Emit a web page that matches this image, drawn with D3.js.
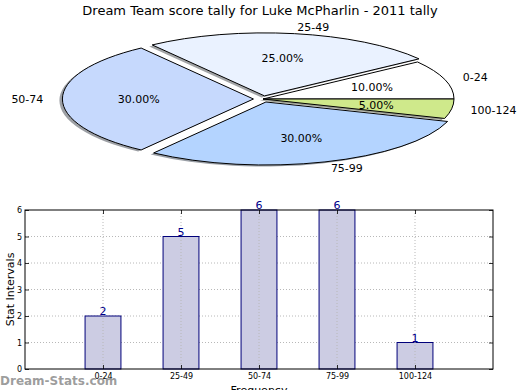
<!DOCTYPE html>
<html>
<head>
<meta charset="utf-8">
<script src="https://cdn.jsdelivr.net/npm/d3@7"></script>
<style>
  body { margin: 0; background: #fff; }
  svg { display: block; font-family: "DejaVu Sans", sans-serif; }
</style>
</head>
<body>
<script>
// score intervals and how many games fell in each
var categories = ["0-24", "25-49", "50-74", "75-99", "100-124"];
var counts = [2, 5, 6, 6, 1];
var sliceColors = ["#ffffff", "#eaf2ff", "#c6d9fd", "#b4d4ff", "#cfe98b"];
var explode = [0, 0.05, 0.05, 0.05, 0];
var yTicks = [0, 1, 2, 3, 4, 5, 6];

var W = 520, H = 390;

var svg = d3.select("body").append("svg")
    .attr("width", W)
    .attr("height", H);

// title
svg.append("text")
    .attr("x", 260).attr("y", 15)
    .attr("text-anchor", "middle")
    .attr("font-size", "13px")
    .text("Dream Team score tally for Luke McPharlin - 2011 tally");

// ---- pie (squashed into an ellipse, matplotlib style: starts at 3 o'clock, ccw) ----
var cx = 263, cy = 99, rx = 191, ry = 63;
var total = d3.sum(counts);

var pie = d3.pie().sortValues(null).value(function (d) { return d; });
var slices = pie(counts).map(function (s, i) {
    // d3 angles are cw from 12 o'clock; reuse them as ccw angle from 3 o'clock
    var t0 = s.startAngle, t1 = s.endAngle, mid = (t0 + t1) / 2;
    return {
        i: i,
        value: s.value,
        a0: Math.PI / 2 - t1,
        a1: Math.PI / 2 - t0,
        mid: mid,
        dx: explode[i] * rx * Math.cos(mid),
        dy: -explode[i] * ry * Math.sin(mid)
    };
});

var arc = d3.arc().innerRadius(0).outerRadius(1)
    .startAngle(function (d) { return d.a0; })
    .endAngle(function (d) { return d.a1; });

var pieG = svg.append("g");

// shadows under everything
pieG.selectAll(".shadow")
    .data(slices)
    .enter().append("path")
    .attr("class", "shadow")
    .attr("d", arc)
    .attr("transform", function (d) {
        return "translate(" + (cx + d.dx - 3) + "," + (cy + d.dy + 1.5) + ") scale(" + rx + "," + ry + ")";
    })
    .attr("fill", function (d) {
        var c = d3.rgb(sliceColors[d.i]);
        return d3.rgb(c.r * 0.3, c.g * 0.3, c.b * 0.3);
    })
    .attr("fill-opacity", 0.5);

pieG.selectAll(".wedge")
    .data(slices)
    .enter().append("path")
    .attr("class", "wedge")
    .attr("d", arc)
    .attr("transform", function (d) {
        return "translate(" + (cx + d.dx) + "," + (cy + d.dy) + ") scale(" + rx + "," + ry + ")";
    })
    .attr("fill", function (d) { return sliceColors[d.i]; })
    .attr("stroke", "#000")
    .attr("stroke-width", 1)
    .attr("vector-effect", "non-scaling-stroke");

// category labels at 1.1 r
pieG.selectAll(".plabel")
    .data(slices)
    .enter().append("text")
    .attr("class", "plabel")
    .attr("x", function (d) { return cx + d.dx + 1.1 * rx * Math.cos(d.mid); })
    .attr("y", function (d) { return cy + d.dy - 1.1 * ry * Math.sin(d.mid); })
    .attr("dy", "0.35em")
    .attr("text-anchor", function (d) { return Math.cos(d.mid) > 0 ? "start" : "end"; })
    .attr("font-size", "11px")
    .text(function (d) { return categories[d.i]; });

// percentages at 0.6 r
pieG.selectAll(".pct")
    .data(slices)
    .enter().append("text")
    .attr("class", "pct")
    .attr("x", function (d) { return cx + d.dx + 0.6 * rx * Math.cos(d.mid); })
    .attr("y", function (d) { return cy + d.dy - 0.6 * ry * Math.sin(d.mid); })
    .attr("dy", "0.35em")
    .attr("text-anchor", "middle")
    .attr("font-size", "11px")
    .text(function (d) { return (d.value / total * 100).toFixed(2) + "%"; });

// ---- bar chart ----
var pLeft = 25, pRight = 493, pTop = 210, pBottom = 369;

var x = d3.scaleLinear().domain([-1, 5]).range([pLeft, pRight]);
var y = d3.scaleLinear().domain([0, 6]).range([pBottom, pTop]);
var barW = 0.46;

var g = svg.append("g");

// horizontal grid (behind bars)
g.selectAll(".hgrid")
    .data(yTicks.slice(1, -1))
    .enter().append("line")
    .attr("x1", pLeft).attr("x2", pRight)
    .attr("y1", function (d) { return y(d); })
    .attr("y2", function (d) { return y(d); })
    .attr("stroke", "#b8b8b8")
    .attr("stroke-dasharray", "1,2");

g.selectAll(".bar")
    .data(counts)
    .enter().append("rect")
    .attr("class", "bar")
    .attr("x", function (d, i) { return x(i - barW / 2); })
    .attr("y", function (d) { return y(d); })
    .attr("width", x(barW) - x(0))
    .attr("height", function (d) { return y(0) - y(d); })
    .attr("fill", "#ccccE3")
    .attr("stroke", "#00007a")
    .attr("stroke-width", 1);

// vertical grid (drawn over bars)
g.selectAll(".vgrid")
    .data(categories)
    .enter().append("line")
    .attr("x1", function (d, i) { return x(i); })
    .attr("x2", function (d, i) { return x(i); })
    .attr("y1", pTop).attr("y2", pBottom)
    .attr("stroke", "#b8b8b8")
    .attr("stroke-dasharray", "1,2");

// value labels
g.selectAll(".val")
    .data(counts)
    .enter().append("text")
    .attr("x", function (d, i) { return x(i); })
    .attr("y", function (d) { return y(d) - 1; })
    .attr("text-anchor", "middle")
    .attr("font-size", "11px")
    .attr("fill", "#00008b")
    .text(function (d) { return d; });

// frame
g.append("rect")
    .attr("x", pLeft).attr("y", pTop)
    .attr("width", pRight - pLeft).attr("height", pBottom - pTop)
    .attr("fill", "none")
    .attr("stroke", "#000")
    .attr("stroke-width", 1);

// axes with inward ticks
var yAxis = d3.axisLeft(y).tickValues(yTicks).tickFormat(d3.format("d"))
    .tickSizeInner(-4).tickSizeOuter(0).tickPadding(3);
var yAx = g.append("g").attr("transform", "translate(" + pLeft + ",0)").call(yAxis);
yAx.select(".domain").remove();
yAx.selectAll("text").attr("font-size", "8px").attr("font-family", "DejaVu Sans, sans-serif");

var yAxisR = d3.axisRight(y).tickValues(yTicks).tickSizeInner(-4).tickSizeOuter(0).tickFormat("");
var yAxR = g.append("g").attr("transform", "translate(" + pRight + ",0)").call(yAxisR);
yAxR.select(".domain").remove();

var xAxis = d3.axisBottom(x).tickValues(d3.range(categories.length))
    .tickFormat(function (i) { return categories[i]; })
    .tickSizeInner(-4).tickSizeOuter(0).tickPadding(4);
var xAx = g.append("g").attr("transform", "translate(0," + pBottom + ")").call(xAxis);
xAx.select(".domain").remove();
xAx.selectAll("text").attr("font-size", "8px").attr("font-family", "DejaVu Sans, sans-serif");

var xAxisT = d3.axisTop(x).tickValues(d3.range(categories.length))
    .tickSizeInner(-4).tickSizeOuter(0).tickFormat("");
var xAxT = g.append("g").attr("transform", "translate(0," + pTop + ")").call(xAxisT);
xAxT.select(".domain").remove();

g.selectAll(".tick line").attr("stroke", "#000").attr("stroke-width", 0.8);

// axis titles
svg.append("text")
    .attr("transform", "translate(14," + ((pTop + pBottom) / 2) + ") rotate(-90)")
    .attr("text-anchor", "middle")
    .attr("font-size", "11px")
    .text("Stat Intervals");

svg.append("text")
    .attr("x", (pLeft + pRight) / 2).attr("y", 394)
    .attr("text-anchor", "middle")
    .attr("font-size", "11px")
    .text("Frequency");

// watermark
svg.append("text")
    .attr("x", 0).attr("y", 385)
    .attr("font-size", "12px")
    .attr("font-weight", "600")
    .attr("fill", "#8c8c8c")
    .attr("fill-opacity", 0.85)
    .text("Dream-Stats.com");
</script>
</body>
</html>
